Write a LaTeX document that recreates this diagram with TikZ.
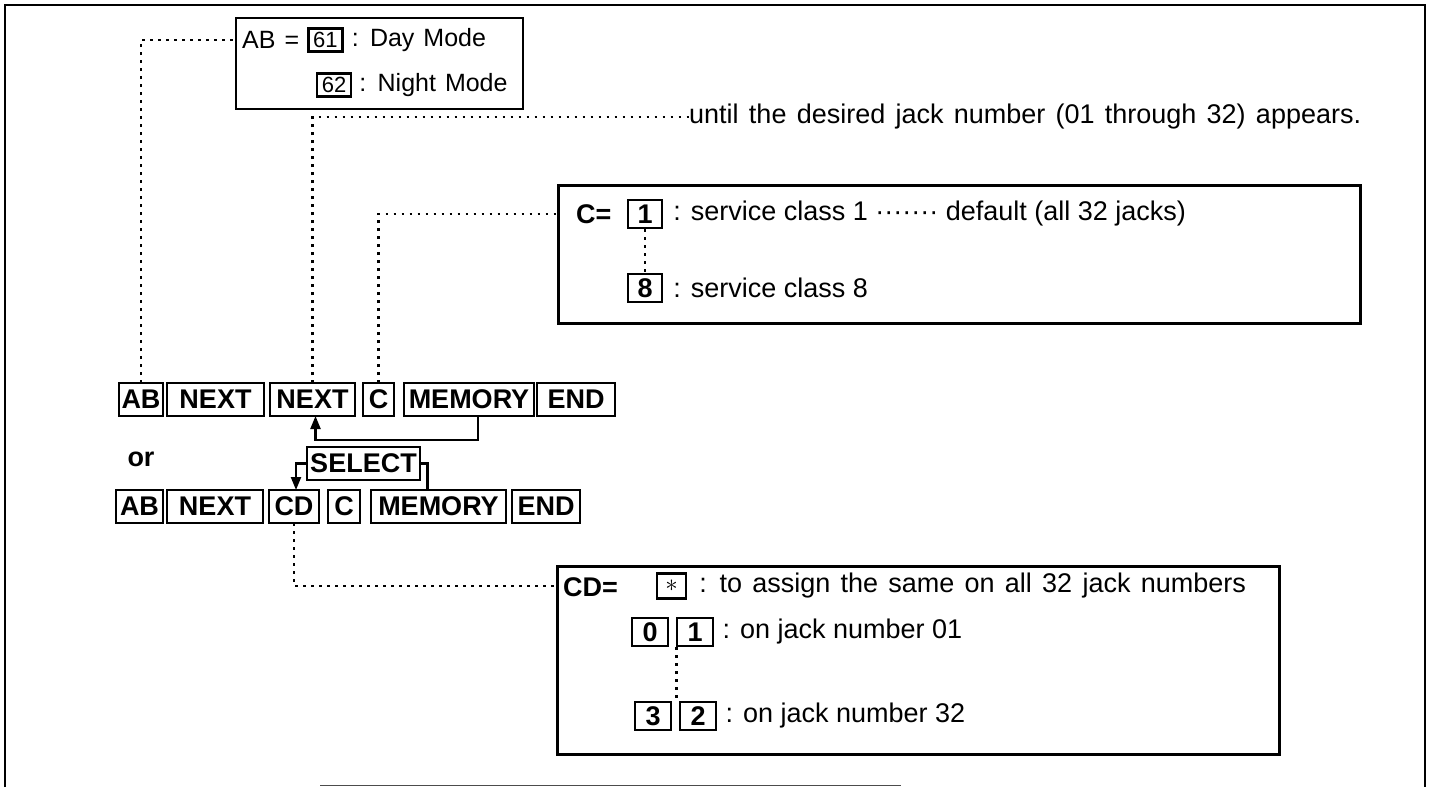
\documentclass[tikz,border=0pt]{standalone}
\usepackage{fontspec}
\setmainfont{Liberation Sans}
\usetikzlibrary{positioning,calc,arrows.meta}

\newcommand{\descfont}{\fontsize{27}{31}\selectfont}
\newcommand{\widefont}{\fontsize{27}{31}\selectfont\spaceskip=.38em\relax}
\newcommand{\modefont}{\fontsize{25}{29}\selectfont\spaceskip=.36em\relax}
\newcommand{\keyfont}{\fontsize{27}{31}\selectfont\bfseries}

\begin{document}
\begin{tikzpicture}[
    x=1pt, y=-1pt,
    font=\descfont,
    key/.style={draw, line width=2.3pt, font=\keyfont, minimum height=33pt, inner sep=0pt, outer sep=0pt},
    digit/.style={draw, line width=2.2pt, font=\keyfont, minimum width=34pt, minimum height=28pt, inner sep=0pt},
    mode/.style={draw, line width=2.2pt, font=\fontsize{22}{26}\selectfont, minimum width=34pt, minimum height=23pt, inner sep=0pt},
    panel/.style={draw, line width=2.6pt, anchor=north west, inner sep=0pt},
    txt/.style={anchor=west, inner sep=0pt},
    dotline/.style={line width=2.8pt, dash pattern=on 2.8pt off 5.2pt},
    arr/.style={-{Triangle[length=13pt,width=10pt]}, line width=2.2pt},
]
\useasboundingbox (0,0) rectangle (1434,787);

% outer frame
\draw[line width=2pt] (4.6,787) |- (1425,5) -- (1425,787);
\draw[line width=1.6pt, black!70] (320,785.5) -- (901,785.5);

% key sequences
\node[key, minimum width=44pt, anchor=north west] (ab1) at (119,383) {AB};
\node[key, minimum width=97pt, right=4pt of ab1]  (next1) {NEXT};
\node[key, minimum width=85pt, right=6pt of next1] (next2) {NEXT};
\node[key, minimum width=31pt, right=8pt of next2] (c1)   {C};
\node[key, minimum width=130pt, right=10pt of c1] (mem1)  {MEMORY};
\node[key, minimum width=78pt, right=3pt of mem1] (end1)  {END};

\node[font=\keyfont] (or) at (141,459) {or};

\node[key, minimum width=47pt, anchor=north west] (ab2) at (116,490) {AB};
\node[key, minimum width=96pt, right=4pt of ab2]  (next3) {NEXT};
\node[key, minimum width=50pt, right=6pt of next3] (cd)   {CD};
\node[key, minimum width=32pt, right=9pt of cd]   (c2)    {C};
\node[key, minimum width=135pt, right=11pt of c2] (mem2)  {MEMORY};
\node[key, minimum width=68pt, right=6pt of mem2] (end2)  {END};

\node[key, minimum width=113pt] (select) at (363.5,463.5) {SELECT};

% day / night box
\node[panel, line width=1.6pt, minimum width=287pt, minimum height=91pt] (modebox) at (235,17) {};
\node[txt, font=\modefont] (abeq) at (242,40) {AB =};
\node[mode, right=8pt of abeq] (k61) {61};
\node[txt, font=\modefont, right=8pt of k61] (day) {: Day Mode};
\node[mode, anchor=west] (k62) at (316,85) {62};
\node[txt, font=\modefont, right=7pt of k62] (night) {: Night Mode};

\node[txt, font=\widefont] (until) at (689,117) {until the desired jack number (01 through 32) appears.};

% service class box
\node[panel, minimum width=802pt, minimum height=138pt] (cbox) at (557,184) {};
\node[txt, font=\keyfont] (ceq) at (576,214) {C=};
\node[digit] (k1) at (645,214) {1};
\node[txt, right=10pt of k1] (cls1) {: service class 1 ······· default (all 32 jacks)};
\node[digit] (k8) at (645,288) {8};
\node[txt, right=10pt of k8] (cls8) {: service class 8};
\draw[dotline] (k1) -- (k8);

% jack number box
\node[panel, minimum width=722pt, minimum height=188pt] (cdbox) at (556,565) {};
\node[txt, font=\keyfont] (cdeq) at (563,587) {CD=};
\node[digit, minimum width=29pt, minimum height=25pt, font=\descfont] (kall) at (671.5,586) {$\ast$};
\node[txt, font=\widefont, right=12pt of kall] (all) {: to assign the same on all 32 jack numbers};
\node[digit, minimum width=36pt] (k0) at (650,632) {0};
\node[digit, minimum width=36pt, right=7pt of k0] (k01) {1};
\node[txt, right=8pt of k01] (j01) {: on jack number 01};
\node[digit, minimum width=36pt] (k3) at (653,716) {3};
\node[digit, minimum width=36pt, right=7pt of k3] (k32) {2};
\node[txt, right=8pt of k32] (j32) {: on jack number 32};
\draw[dotline] (k01.south west) -- (k01.south west |- k32.north);

% dotted leaders
\draw[dotline] (ab1.north) |- (modebox.west |- abeq);
\draw[dotline] (next2.north) |- (until.west);
\draw[dotline] (c1.north) |- (cbox.west |- k1);
\draw[dotline] (cd.south) |- (cdbox.west |- kall);

% loop arrows
\draw[arr] ([xshift=9pt]mem1.south) -- ++(0,24) -| ([xshift=3pt]next2.south);
\draw[arr] (select.west) -| ([xshift=2pt]cd.north);
\draw[line width=2.2pt] (select.east) -| ([xshift=-11pt]mem2.north);
\end{tikzpicture}
\end{document}
